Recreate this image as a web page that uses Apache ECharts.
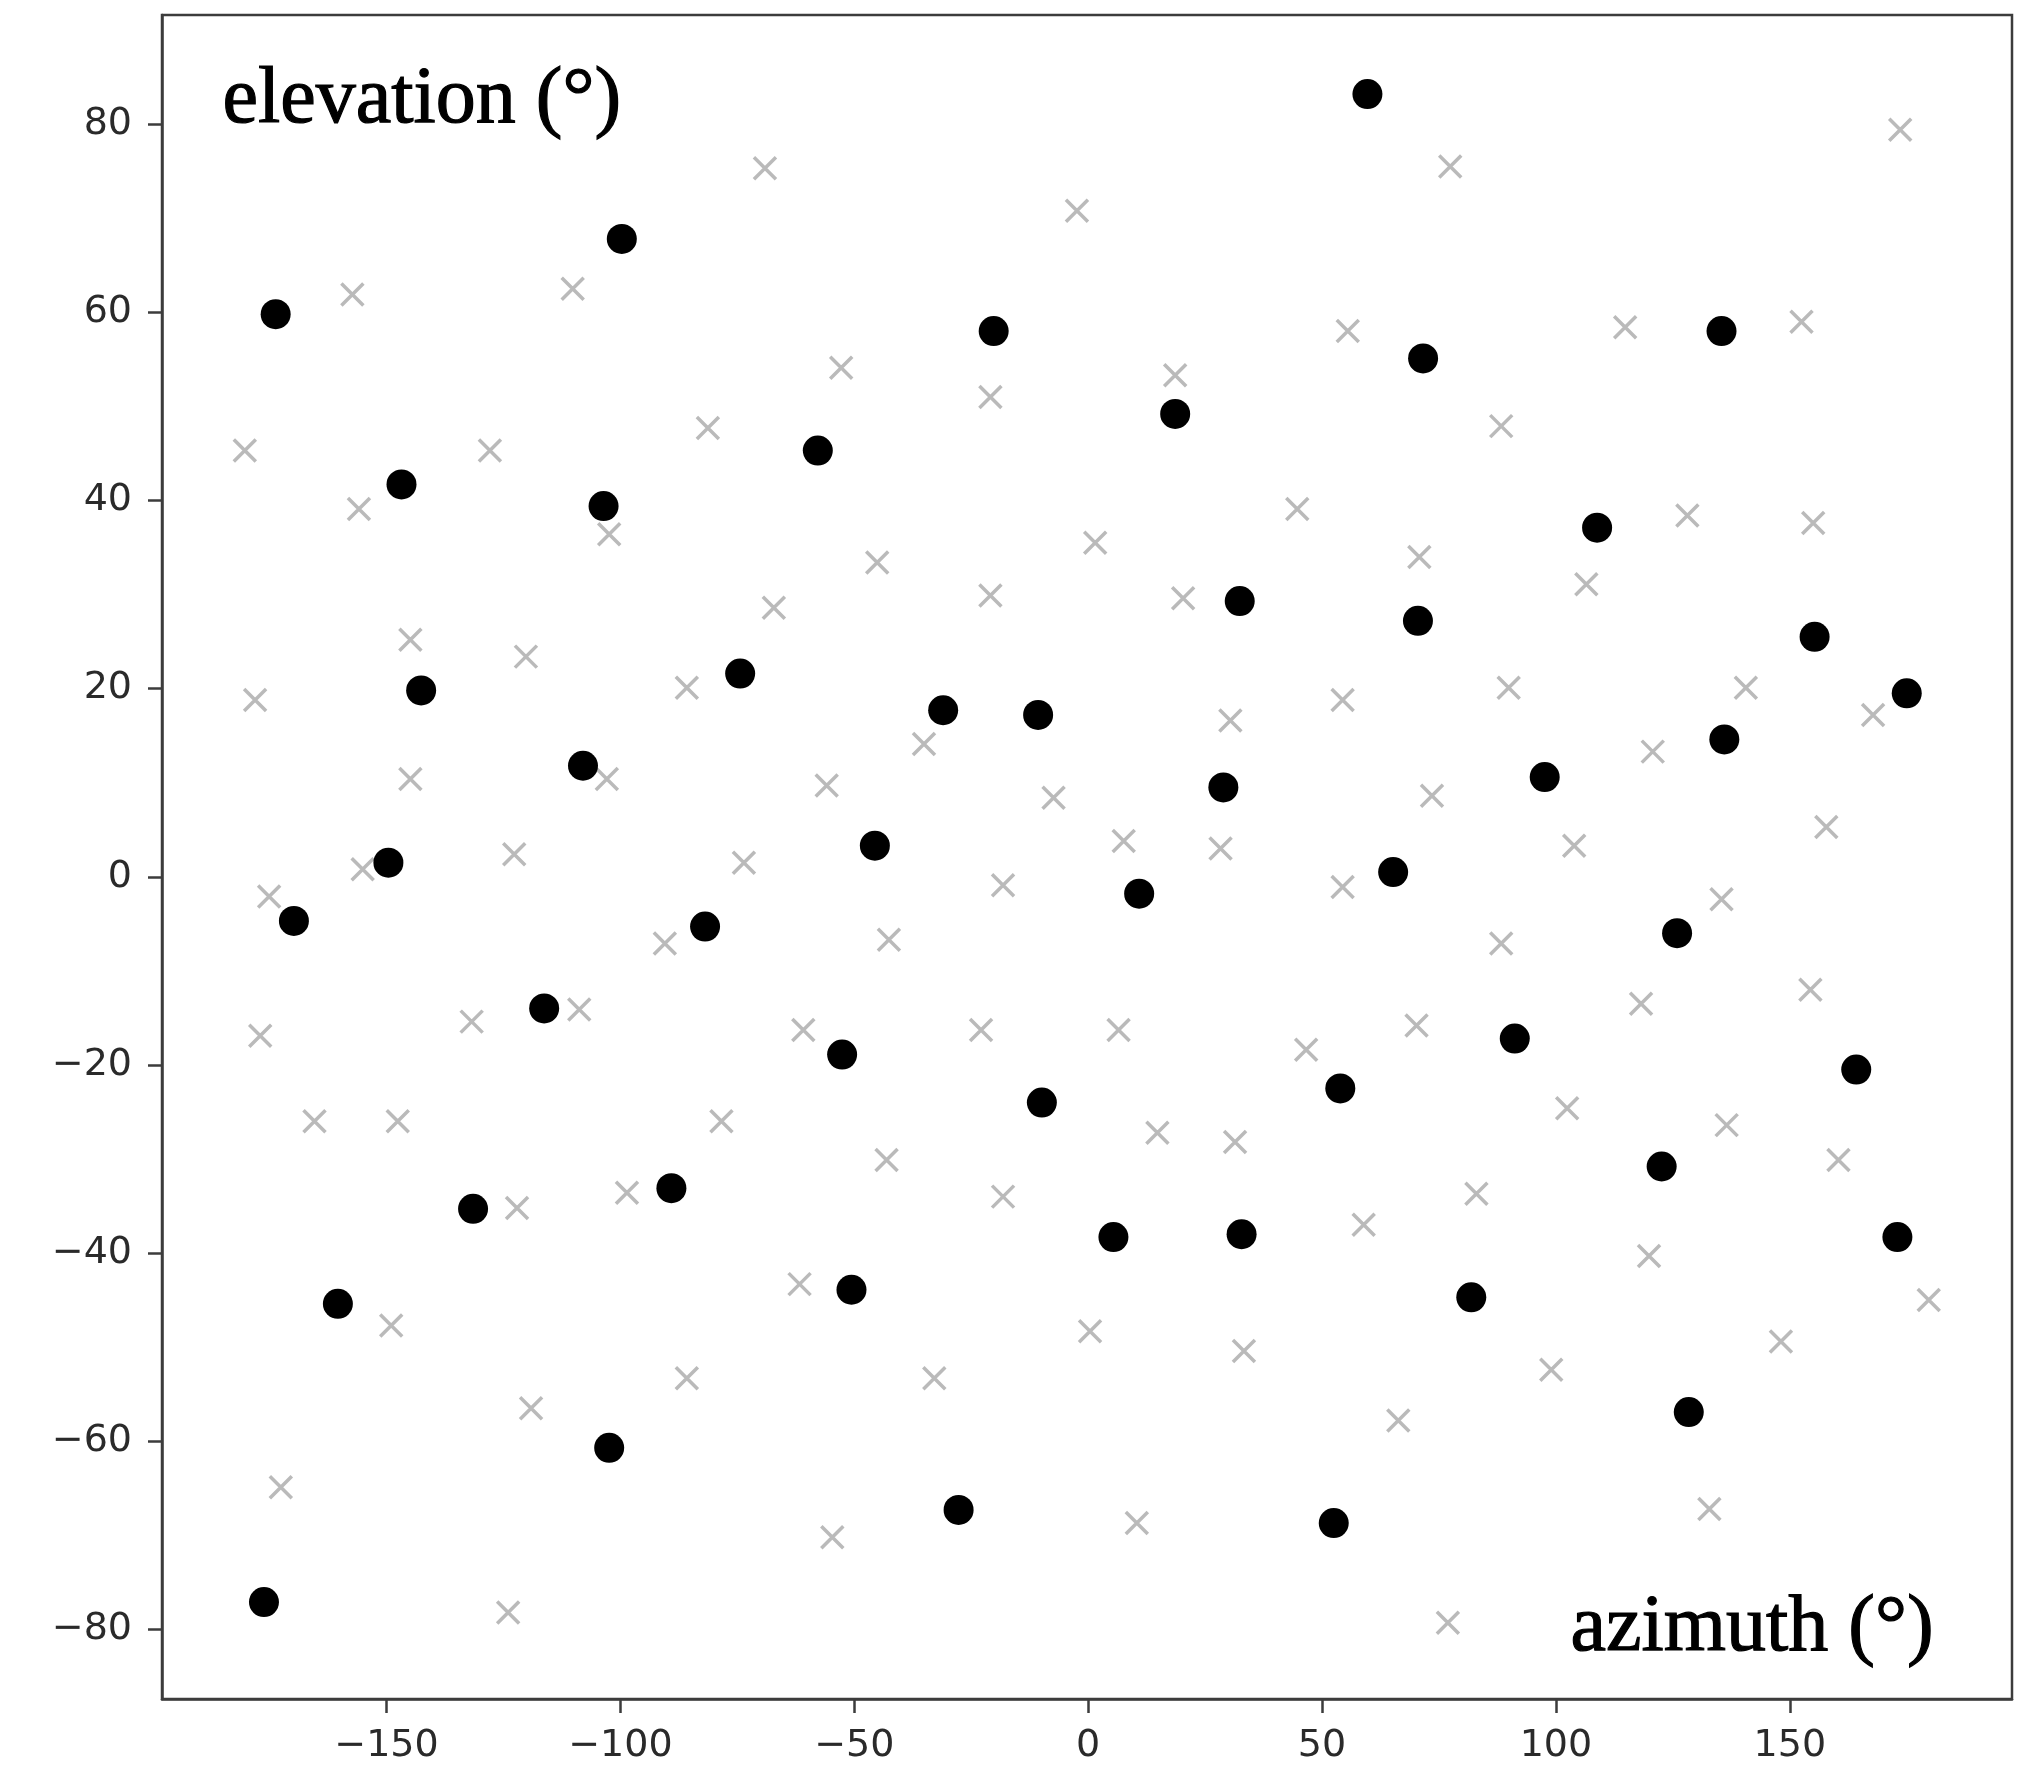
<!DOCTYPE html>
<html>
<head>
<meta charset="utf-8">
<script src="https://cdn.jsdelivr.net/npm/echarts@6/dist/echarts.min.js"></script>
<style>
  html, body { margin: 0; padding: 0; background: #fff; }
  #chartdiv { width: 2034px; height: 1767px; }
</style>
</head>
<body>
<div id="chartdiv"></div>
<script>
// filled black dots: [azimuth, elevation]
var dotPoints = [
    [-173.7, 59.8], [-99.7, 67.8], [59.7, 83.2], [-20.2, 58.0], [71.6, 55.1],
    [135.4, 58.0], [18.6, 49.2], [-57.8, 45.3], [-146.8, 41.7], [-103.6, 39.4],
    [108.8, 37.1], [32.4, 29.3], [70.5, 27.2], [155.3, 25.5], [-142.6, 19.8],
    [175.0, 19.5], [-74.4, 21.6], [-31.0, 17.7], [-10.7, 17.2], [136.0, 14.6],
    [-108.0, 11.8], [97.6, 10.6], [28.9, 9.5], [-45.6, 3.3], [-149.6, 1.5],
    [65.2, 0.5], [10.9, -1.8], [-169.8, -4.7], [-81.9, -5.3], [125.9, -6.0],
    [-116.3, -14.0], [-52.6, -18.9], [91.2, -17.2], [164.2, -20.5], [-9.9, -24.0],
    [53.9, -22.5], [122.6, -30.8], [-89.1, -33.1], [-131.5, -35.3], [5.4, -38.3],
    [32.8, -38.0], [173.0, -38.3], [-50.6, -43.9], [-160.4, -45.4], [81.9, -44.7],
    [128.4, -56.9], [-102.4, -60.7], [-27.7, -67.3], [52.5, -68.7], [-176.2, -77.1]
];

// grey crosses: [azimuth, elevation]
var crossPoints = [
    [-69.1, 75.3], [77.4, 75.5], [173.6, 79.4], [-2.4, 70.8], [-157.3, 61.9],
    [-110.2, 62.5], [152.5, 59.0], [114.8, 58.4], [55.5, 58.0], [-52.8, 54.1],
    [-20.9, 51.0], [18.6, 53.3], [-180.3, 45.3], [-127.9, 45.3], [-81.3, 47.7],
    [88.3, 47.9], [-155.9, 39.1], [-102.4, 36.4], [44.7, 39.1], [128.1, 38.4],
    [155.0, 37.6], [1.5, 35.5], [-45.1, 33.4], [70.8, 34.0], [-20.9, 29.9],
    [20.3, 29.6], [106.5, 31.1], [-67.2, 28.6], [-144.9, 25.2], [-120.2, 23.4],
    [-178.1, 18.8], [-85.8, 20.1], [54.4, 18.8], [89.9, 20.1], [140.6, 20.1],
    [167.8, 17.2], [30.4, 16.6], [-35.1, 14.1], [120.7, 13.3], [-144.9, 10.4],
    [-102.9, 10.4], [-55.9, 9.7], [-7.4, 8.4], [73.5, 8.6], [157.8, 5.3],
    [7.6, 3.8], [28.3, 3.0], [103.9, 3.3], [-155.1, 0.8], [-122.7, 2.4],
    [-73.6, 1.5], [-175.1, -2.1], [-18.2, -0.9], [54.4, -1.1], [135.4, -2.4],
    [-42.6, -6.7], [-90.5, -7.1], [88.3, -7.1], [-108.8, -14.1], [118.2, -13.5],
    [154.4, -12.0], [-177.0, -16.9], [-131.8, -15.4], [-60.9, -16.3], [-22.9, -16.3],
    [6.5, -16.3], [70.2, -15.8], [46.6, -18.4], [-165.4, -26.0], [-147.6, -26.0],
    [-78.4, -26.0], [102.4, -24.6], [14.8, -27.2], [136.5, -26.4], [-43.1, -30.1],
    [31.4, -28.2], [160.4, -30.1], [-98.6, -33.6], [-122.1, -35.2], [-18.2, -34.0],
    [83.0, -33.7], [58.9, -37.0], [119.9, -40.3], [-61.7, -43.3], [179.7, -45.0],
    [-149.0, -47.7], [0.4, -48.3], [33.3, -50.4], [148.1, -49.4], [-119.1, -56.5],
    [-85.8, -53.3], [-32.9, -53.3], [99.0, -52.4], [66.3, -57.8], [-172.6, -64.9],
    [-54.7, -70.2], [10.4, -68.7], [132.8, -67.2], [-124.0, -78.2], [76.9, -79.3]
];

var xTicks = [-150, -100, -50, 0, 50, 100, 150];
var yTicks = [-80, -60, -40, -20, 0, 20, 40, 60, 80];

var minusFix = function(v) {
    return String(v).replace('-', '\u2212');
};

var axisColor = '#3c3c3c';
var tickFont = {
    fontFamily: 'DejaVu Sans',
    fontSize: 38,
    color: '#2a2a2a'
};

var options = {
    animation: false,
    backgroundColor: '#ffffff',
    grid: {
        left: 162,
        right: 22,
        top: 15,
        bottom: 68,
        show: true,
        borderColor: axisColor,
        borderWidth: 2.5
    },
    xAxis: {
        type: 'value',
        min: -198,
        max: 197.5,
        axisLine: { show: true, onZero: false, lineStyle: { color: axisColor, width: 2.5 } },
        splitLine: { show: false },
        axisTick: {
            show: true,
            customValues: xTicks,
            length: 14,
            lineStyle: { color: axisColor, width: 2.5 }
        },
        axisLabel: Object.assign({
            customValues: xTicks,
            margin: 28,
            formatter: minusFix
        }, tickFont)
    },
    yAxis: {
        type: 'value',
        min: -87.4,
        max: 91.6,
        axisLine: { show: true, onZero: false, lineStyle: { color: axisColor, width: 2.5 } },
        splitLine: { show: false },
        axisTick: {
            show: true,
            customValues: yTicks,
            length: 14,
            lineStyle: { color: axisColor, width: 2.5 }
        },
        axisLabel: Object.assign({
            customValues: yTicks,
            margin: 30,
            padding: [8, 0, 0, 0],
            formatter: minusFix
        }, tickFont)
    },
    graphic: [
        {
            type: 'text',
            left: 222,
            top: 60,
            style: {
                text: 'elevation (°)',
                font: '80px "Liberation Serif"',
                fill: '#000000',
                stroke: '#000000',
                lineWidth: 1.2
            }
        },
        {
            type: 'text',
            left: 1570,
            top: 1588,
            style: {
                text: 'azimuth (°)',
                font: '80px "Liberation Serif"',
                fill: '#000000',
                stroke: '#000000',
                lineWidth: 1.2
            }
        }
    ],
    series: [
        {
            name: 'crosses',
            type: 'scatter',
            data: crossPoints,
            symbol: 'path://M0,0L10,10M10,0L0,10',
            symbolSize: 22,
            itemStyle: {
                color: 'rgba(0,0,0,0)',
                borderColor: '#bababa',
                borderWidth: 3.5,
                opacity: 1
            },
            z: 2
        },
        {
            name: 'dots',
            type: 'scatter',
            data: dotPoints,
            symbol: 'circle',
            symbolSize: 30,
            itemStyle: {
                color: '#000000',
                opacity: 1
            },
            z: 3
        }
    ]
};

var chartDom = document.getElementById('chartdiv');
var plot = echarts.init(chartDom);
plot.setOption(options);
</script>
</body>
</html>
